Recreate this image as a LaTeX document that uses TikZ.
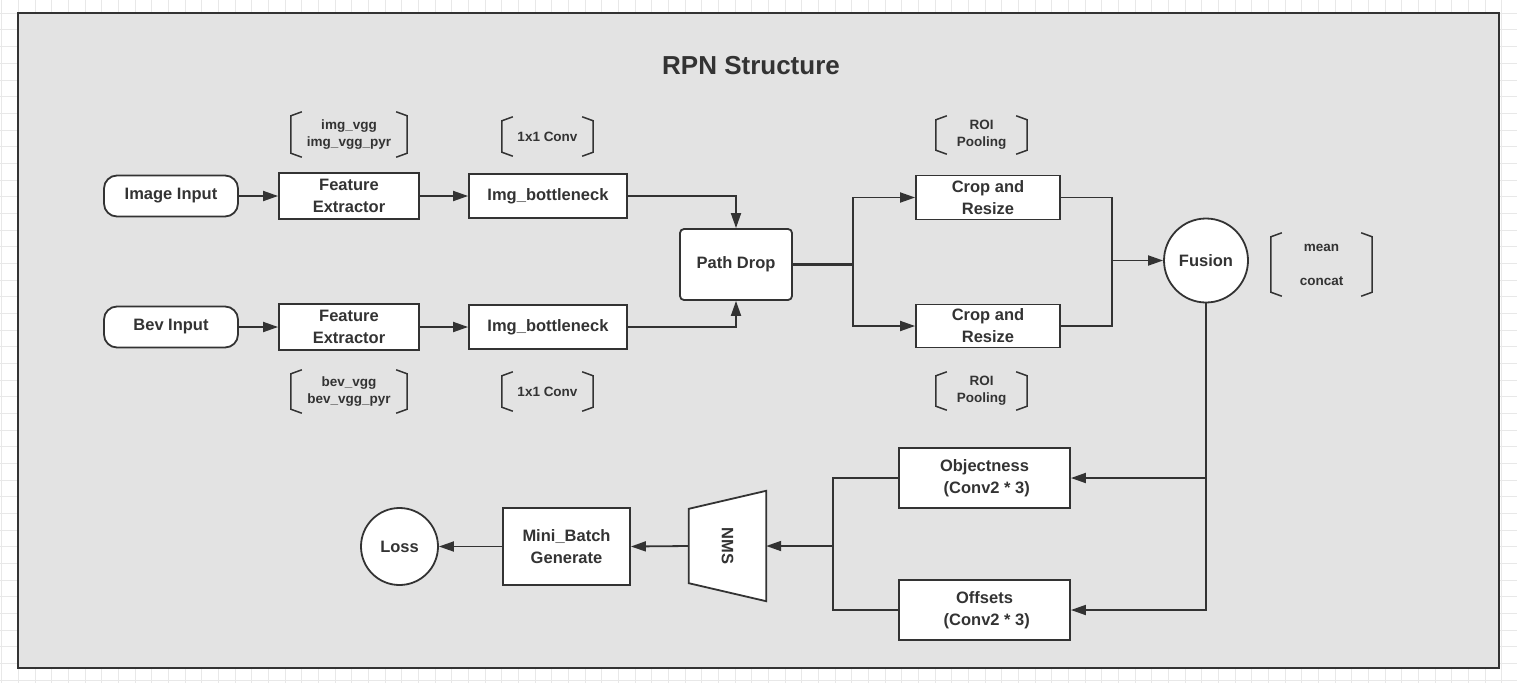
\documentclass[tikz,border=0pt]{standalone}
\usepackage{fontspec}
\setmainfont{Liberation Sans}
\usetikzlibrary{arrows.meta,calc}
\definecolor{dk}{HTML}{333333}
\definecolor{panel}{HTML}{E3E3E3}
\definecolor{gridc}{HTML}{E8E8E8}
\tikzset{
  bx/.style={draw=dk, line width=1.8pt, fill=white, inner sep=0pt, align=center, text=dk,
    font=\bfseries\fontsize{16.5}{22}\selectfont},
  rbx/.style={bx, rounded corners=#1},
  circ/.style={bx, circle},
  lbl/.style={inner sep=0pt, align=center, text=dk, font=\bfseries\fontsize{13.5}{17}\selectfont},
  brk/.style={draw=dk, line width=1.5pt},
  conn/.style={draw=dk, line width=1.8pt},
  arr/.style={conn, -{Triangle[length=15pt,width=10pt]}},
}
\newcommand\mybrk[1]{%
  \draw[brk] ([xshift=11pt]#1.north west) -- ([yshift=-4pt]#1.north west) -- ([yshift=4pt]#1.south west) -- ([xshift=11pt]#1.south west);
  \draw[brk] ([xshift=-11pt]#1.north east) -- ([yshift=-4pt]#1.north east) -- ([yshift=4pt]#1.south east) -- ([xshift=-11pt]#1.south east);}
\begin{document}
\begin{tikzpicture}[x=1pt,y=-1pt]
\useasboundingbox (0,0) rectangle (1517,683);
\fill[white] (0,0) rectangle (1517,683);
\foreach \i in {0,...,91} \draw[gridc, line width=1pt] (1.67+\i*16.667,0) -- (1.67+\i*16.667,683);
\foreach \j in {0,...,41} \draw[gridc, line width=1pt] (0,13.33+\j*16.667) -- (1517,13.33+\j*16.667);
\draw[dk, fill=panel, line width=2pt] (18,13) rectangle (1499,668);

\node[text=dk, font=\bfseries\fontsize{26}{30}\selectfont] (title) at (751,66) {RPN Structure};

% top row
\node[rbx=13pt, minimum width=134pt, minimum height=41pt] (img) at (171,196) {Image Input};
\node[bx, minimum width=140pt, minimum height=46pt] (fe1) at (349,196) {Feature\\Extractor};
\node[bx, minimum width=158pt, minimum height=44pt] (bn1) at (548,196) {Img\_bottleneck};
% bottom row
\node[rbx=13pt, minimum width=134pt, minimum height=41pt] (bev) at (171,327) {Bev Input};
\node[bx, minimum width=140pt, minimum height=46pt] (fe2) at (349,327) {Feature\\Extractor};
\node[bx, minimum width=158pt, minimum height=44pt] (bn2) at (548,327) {Img\_bottleneck};

\node[rbx=4pt, minimum width=112pt, minimum height=71pt] (pd) at (736,264.5) {Path Drop};
\node[bx, minimum width=144pt, minimum height=44pt] (cr1) at (988,197.5) {Crop and\\Resize};
\node[bx, minimum width=144pt, minimum height=43pt] (cr2) at (988,326) {Crop and\\Resize};
\node[circ, minimum size=84pt] (fus) at (1206,260.5) {Fusion};

\node[bx, minimum width=171pt, minimum height=60pt] (obj) at (984.5,478) {Objectness\\\ (Conv2 * 3)};
\node[bx, minimum width=171pt, minimum height=60pt] (off) at (984.5,610) {Offsets\\\ (Conv2 * 3)};

\node[inner sep=0pt, minimum width=77pt, minimum height=110pt] (nms) at (727.5,546) {};
\draw[dk, fill=white, line width=1.8pt] (nms.north east) -- (nms.south east) -- ([yshift=18pt]nms.south west) -- ([yshift=-18pt]nms.north west) -- cycle;
\node[rotate=-90, text=dk, font=\bfseries\fontsize{16.5}{22}\selectfont] (nmst) at (nms.center) {NMS};

\node[bx, minimum width=127pt, minimum height=77pt] (mb) at (566.5,546.5) {Mini\_Batch\\Generate};
\node[circ, minimum size=77pt] (loss) at (399.5,546.5) {Loss};

% bracket labels
\node[lbl, minimum width=116pt, minimum height=45pt] (l1) at (349,134.5) {img\_vgg\\img\_vgg\_pyr};
\node[lbl, minimum width=91pt, minimum height=39pt] (l2) at (547.5,136.5) {1x1 Conv};
\node[lbl, minimum width=91pt, minimum height=38pt] (l3) at (981.5,135) {ROI\\Pooling};
\node[lbl, minimum width=116pt, minimum height=43pt] (l4) at (349,391.5) {bev\_vgg\\bev\_vgg\_pyr};
\node[lbl, minimum width=91pt, minimum height=39pt] (l5) at (547.5,391.5) {1x1 Conv};
\node[lbl, minimum width=91pt, minimum height=38pt] (l6) at (981.5,391) {ROI\\Pooling};
\node[lbl, minimum width=101pt, minimum height=63pt, font=\bfseries\fontsize{13.5}{34}\selectfont] (l7) at (1321.5,264.5) {mean\\concat};
\mybrk{l1}\mybrk{l2}\mybrk{l3}\mybrk{l4}\mybrk{l5}\mybrk{l6}\mybrk{l7}

% connectors
\draw[arr] (img) -- (fe1);
\draw[arr] (fe1) -- (bn1);
\draw[arr] (bev) -- (fe2);
\draw[arr] (fe2) -- (bn2);
\draw[arr] (bn1.east) -| (pd.north);
\draw[arr] (bn2.east) -| (pd.south);
\coordinate (split) at (853,264.5);
\draw[conn, line width=2.8pt] (pd.east) -- (split);
\draw[arr] (split) |- (cr1.west);
\draw[arr] (split) |- (cr2.west);
\coordinate (join) at (1112,260.5);
\draw[conn] (cr1.east) -| (join);
\draw[conn] (cr2.east) -| (join);
\draw[arr] (join) -- (fus.west);
\draw[arr] (fus.south) |- (obj.east);
\draw[arr] (fus.south) |- (off.east);
\coordinate (merge) at (833,546);
\draw[conn] (obj.west) -| (merge);
\draw[conn] (off.west) -| (merge);
\draw[arr] (merge) -- (nms.east);
\draw[arr] (nms.west) -- (mb.east);
\draw[arr] (mb.west) -- (loss.east);
\end{tikzpicture}
\end{document}
